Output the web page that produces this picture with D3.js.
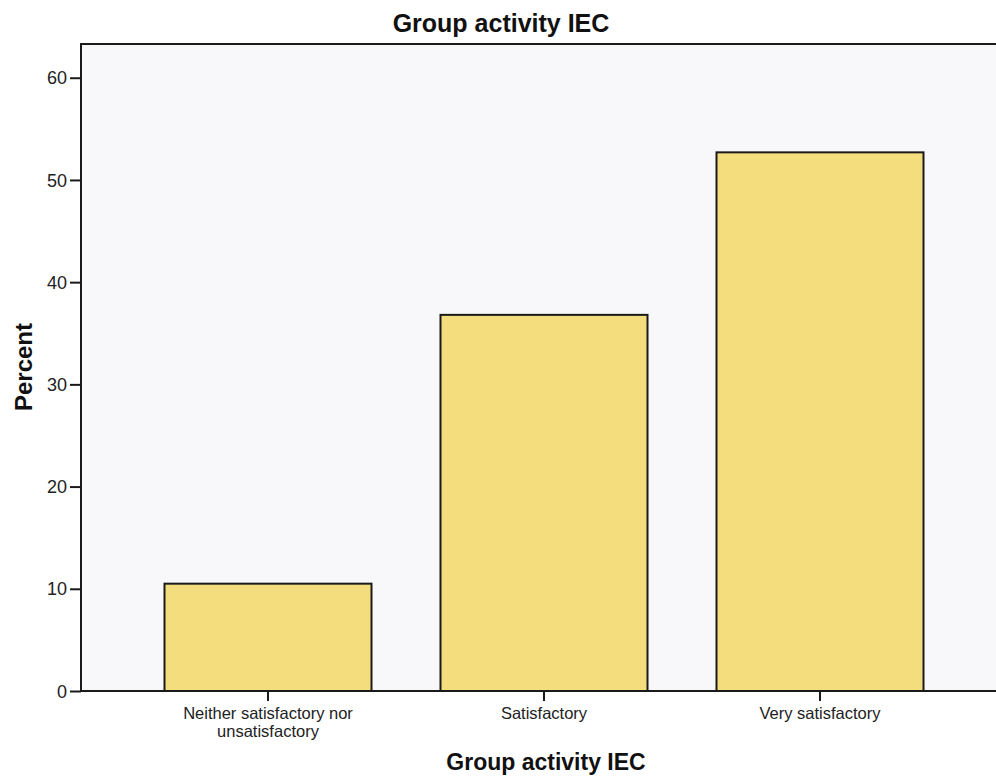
<!DOCTYPE html>
<html>
<head>
<meta charset="utf-8">
<script src="https://cdn.jsdelivr.net/npm/d3@7/dist/d3.min.js"></script>
<style>
  html, body { margin: 0; padding: 0; background: #ffffff; }
  svg { display: block; font-family: Arial, "Liberation Sans", sans-serif; }
</style>
</head>
<body>
<svg id="chart" width="996" height="780"></svg>
<script>
const categories = ["Neither satisfactory nor unsatisfactory", "Satisfactory", "Very satisfactory"];
const categoryLines = [["Neither satisfactory nor", "unsatisfactory"], ["Satisfactory"], ["Very satisfactory"]];
const percents = [10.5, 36.8, 52.7];
const yTicks = [0, 10, 20, 30, 40, 50, 60];
const chartTitle = "Group activity IEC";
const xTitle = "Group activity IEC";
const yTitle = "Percent";

(function () {
const svg = d3.select("#chart");
const pLeft = 81, pTop = 44, pBottom = 691, pRight = 1010;

const x = d3.scaleBand().domain(categories).range([130, 958]).paddingInner(0.25).paddingOuter(0.125);
const y = d3.scaleLinear().domain([0, 63.3]).range([pBottom, pTop]);

// plot background
svg.append("rect").attr("x", pLeft).attr("y", pTop).attr("width", pRight - pLeft).attr("height", pBottom - pTop)
  .attr("fill", "#f8f8fa").attr("stroke", "#1a1a1a").attr("stroke-width", 2);

// bars
svg.selectAll("rect.bar").data(percents).join("rect").attr("class", "bar")
  .attr("x", (d, i) => x(categories[i]))
  .attr("y", d => y(d))
  .attr("width", x.bandwidth())
  .attr("height", d => y(0) - y(d))
  .attr("fill", "#f3dd7d")
  .attr("stroke", "#1a1a1a").attr("stroke-width", 2);

// y axis
const yAxis = d3.axisLeft(y).tickValues(yTicks).tickSize(11).tickPadding(3).tickFormat(d3.format("d"));
const gy = svg.append("g").attr("transform", `translate(${pLeft},0)`).call(yAxis);
gy.select(".domain").remove();
gy.selectAll(".tick line").attr("stroke", "#1a1a1a").attr("stroke-width", 2);
gy.selectAll(".tick text").attr("font-size", 18).attr("fill", "#222").attr("dy", "0.34em");

// x axis
const xAxis = d3.axisBottom(x).tickSize(10).tickFormat("");
const gx = svg.append("g").attr("transform", `translate(0,${pBottom})`).call(xAxis);
gx.select(".domain").remove();
gx.selectAll(".tick line").attr("stroke", "#1a1a1a").attr("stroke-width", 2);

// category labels (one text element per line)
categories.forEach((c, i) => {
  const cx = x(c) + x.bandwidth() / 2;
  categoryLines[i].forEach((line, j) => {
    svg.append("text").attr("x", cx).attr("y", 719 + j * 18)
      .attr("text-anchor", "middle").attr("font-size", 16.5).attr("fill", "#222").text(line);
  });
});

// titles
svg.append("text").attr("x", 501).attr("y", 32).attr("text-anchor", "middle")
  .attr("font-size", 25).attr("font-weight", "bold").attr("fill", "#111").text(chartTitle);
svg.append("text").attr("x", 546).attr("y", 770).attr("text-anchor", "middle")
  .attr("font-size", 23).attr("font-weight", "bold").attr("fill", "#111").text(xTitle);
svg.append("text").attr("transform", "translate(32,367) rotate(-90)").attr("text-anchor", "middle")
  .attr("font-size", 24).attr("font-weight", "bold").attr("fill", "#111").text(yTitle);
})();
</script>
</body>
</html>
